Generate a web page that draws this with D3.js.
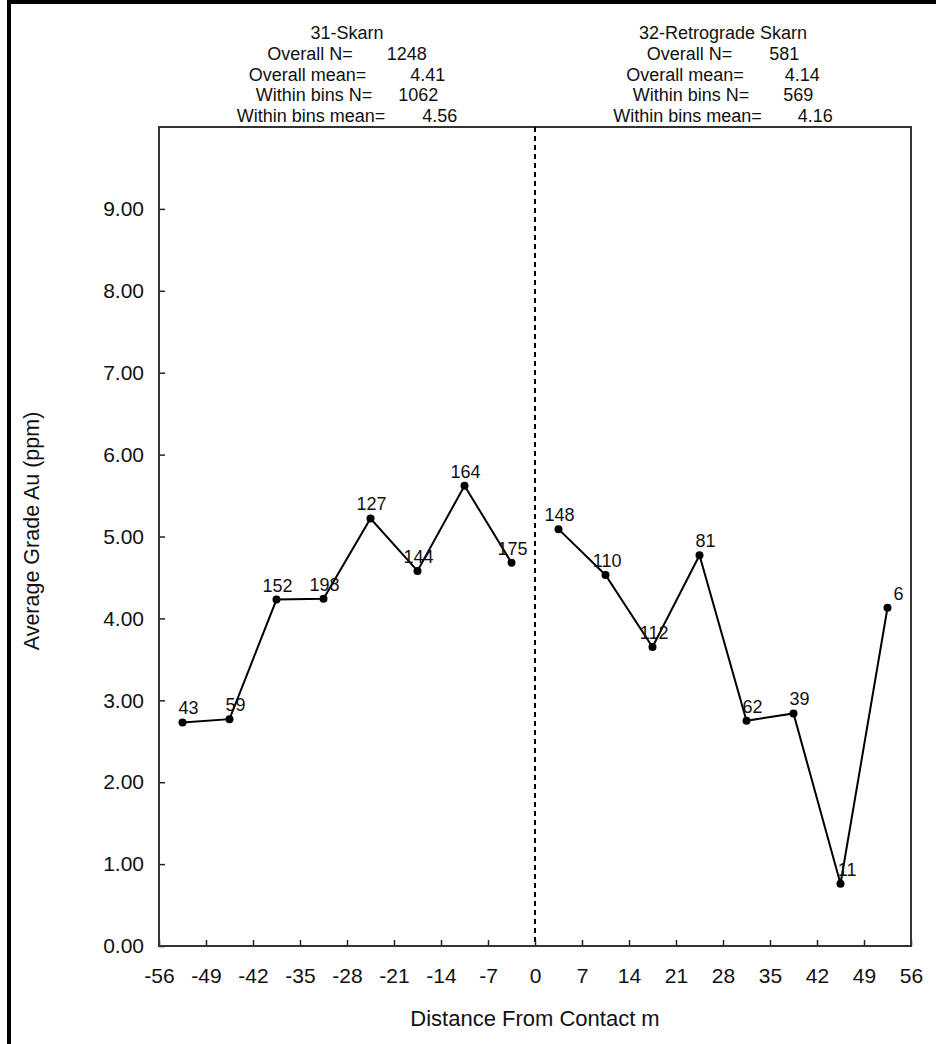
<!DOCTYPE html>
<html>
<head>
<meta charset="utf-8">
<script src="https://cdn.jsdelivr.net/npm/d3@7"></script>
<style>
  body { margin: 0; background: #fff; }
  svg { display: block; font-family: "Liberation Sans", Arial, Helvetica, sans-serif; }
</style>
</head>
<body>
<div id="chart"></div>
<script>
// bin centres (m) and average grade per bin
const skarnDist = [-52.5, -45.5, -38.5, -31.5, -24.5, -17.5, -10.5, -3.5];
const skarnGrade = [2.73, 2.77, 4.23, 4.24, 5.22, 4.58, 5.62, 4.68];
const skarnCount = [43, 59, 152, 198, 127, 144, 164, 175];

const retroDist = [3.5, 10.5, 17.5, 24.5, 31.5, 38.5, 45.5, 52.5];
const retroGrade = [5.09, 4.53, 3.65, 4.77, 2.75, 2.84, 0.76, 4.13];
const retroCount = [148, 110, 112, 81, 62, 39, 11, 6];

const xTicks = [-56, -49, -42, -35, -28, -21, -14, -7, 0, 7, 14, 21, 28, 35, 42, 49, 56];
const yTicks = [0, 1, 2, 3, 4, 5, 6, 7, 8, 9];

const skarnTitle = "31-Skarn";
const skarnStats = [["Overall N=", "1248"], ["Overall mean=", "4.41"], ["Within bins N=", "1062"], ["Within bins mean=", "4.56"]];
const retroTitle = "32-Retrograde Skarn";
const retroStats = [["Overall N=", "581"], ["Overall mean=", "4.14"], ["Within bins N=", "569"], ["Within bins mean=", "4.16"]];

const width = 936, height = 1044;
const margin = { top: 127, right: 25, bottom: 98, left: 159 };

const svg = d3.select("#chart").append("svg")
  .attr("width", width)
  .attr("height", height);

// outer frame (top + left edges only are visible)
svg.append("line").attr("x1", 9).attr("x2", 9).attr("y1", 0).attr("y2", height)
  .attr("stroke", "#000").attr("stroke-width", 4);
svg.append("line").attr("x1", 7).attr("x2", width).attr("y1", 2).attr("y2", 2)
  .attr("stroke", "#000").attr("stroke-width", 4);

const x = d3.scaleLinear().domain([-56, 56]).range([margin.left, width - margin.right]);
const y = d3.scaleLinear().domain([0, 10]).range([height - margin.bottom, margin.top]);

// y axis
svg.append("g")
  .attr("transform", `translate(${margin.left},0)`)
  .call(d3.axisLeft(y).tickValues(yTicks).tickFormat(d3.format(".2f"))
    .tickSizeInner(-6).tickSizeOuter(0).tickPadding(15))
  .call(g => g.select(".domain").remove())
  .call(g => g.selectAll("line").attr("stroke", "#222").attr("stroke-width", 1.5))
  .call(g => g.selectAll("text").attr("font-size", 21).attr("fill", "#111")
    .style("font-family", "Liberation Sans, Arial, sans-serif"));

// x axis
svg.append("g")
  .attr("transform", `translate(0,${y(0)})`)
  .call(d3.axisBottom(x).tickValues(xTicks).tickFormat(d3.format("d"))
    .tickSizeInner(-6).tickSizeOuter(0).tickPadding(22))
  .call(g => g.select(".domain").remove())
  .call(g => g.selectAll("line").attr("stroke", "#222").attr("stroke-width", 1.5))
  .call(g => g.selectAll("text").attr("font-size", 21).attr("fill", "#111")
    .style("font-family", "Liberation Sans, Arial, sans-serif")
    .text(d => d < 0 ? "-" + Math.abs(d) : d));

// plot frame
svg.append("rect")
  .attr("x", x(-56)).attr("y", y(10))
  .attr("width", x(56) - x(-56)).attr("height", y(0) - y(10))
  .attr("fill", "none").attr("stroke", "#333").attr("stroke-width", 2);

// contact line
svg.append("line")
  .attr("x1", x(0)).attr("x2", x(0)).attr("y1", y(10)).attr("y2", y(0))
  .attr("stroke", "#000").attr("stroke-width", 2).attr("stroke-dasharray", "5,4");

// axis titles
svg.append("text")
  .attr("x", x(0)).attr("y", 1026)
  .attr("text-anchor", "middle").attr("font-size", 22).attr("fill", "#111")
  .text("Distance From Contact m");

svg.append("text")
  .attr("transform", `translate(39,${531}) rotate(-90)`)
  .attr("text-anchor", "middle").attr("font-size", 21.5).attr("fill", "#111")
  .text("Average Grade Au (ppm)");

// header blocks
const statGapsL = [34, 44, 26, 37];
const statGapsR = [37, 41, 34, 36];
function header(cx, title, stats, gaps) {
  const g = svg.append("g").attr("font-size", 18).attr("fill", "#111").attr("text-anchor", "middle");
  g.append("text").attr("x", cx).attr("y", 39).text(title);
  stats.forEach((s, i) => {
    const t = g.append("text").attr("x", cx).attr("y", 60 + i * 20.5);
    t.append("tspan").text(s[0]);
    t.append("tspan").attr("dx", gaps[i]).text(s[1]);
  });
}
header(x(-28), skarnTitle, skarnStats, statGapsL);
header(x(28), retroTitle, retroStats, statGapsR);

// series
function series(dist, grade, count) {
  const pts = dist.map((d, i) => ({ d: d, v: grade[i], n: count[i] }));
  const line = d3.line().x(p => x(p.d)).y(p => y(p.v));
  svg.append("path")
    .datum(pts)
    .attr("d", line)
    .attr("fill", "none").attr("stroke", "#000").attr("stroke-width", 2);
  svg.append("g").selectAll("circle")
    .data(pts).join("circle")
    .attr("cx", p => x(p.d)).attr("cy", p => y(p.v)).attr("r", 4)
    .attr("fill", "#000");
  svg.append("g").selectAll("text")
    .data(pts).join("text")
    .attr("x", p => x(p.d) + 16).attr("y", p => y(p.v) - 8)
    .attr("text-anchor", "end").attr("font-size", 18).attr("fill", "#111")
    .text(p => p.n);
}
series(skarnDist, skarnGrade, skarnCount);
series(retroDist, retroGrade, retroCount);
</script>
</body>
</html>
